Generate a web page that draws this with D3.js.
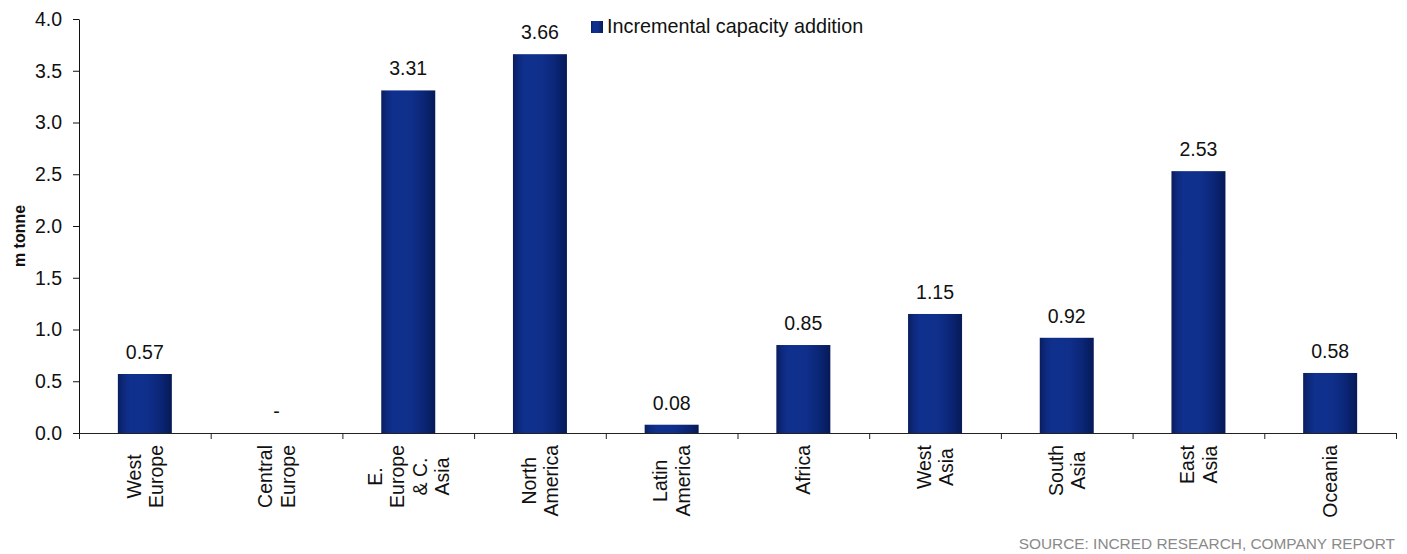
<!DOCTYPE html>
<html>
<head>
<meta charset="utf-8">
<script src="https://cdn.jsdelivr.net/npm/d3@7"></script>
<style>
  html, body { margin: 0; padding: 0; background: #fff; }
  svg { display: block; }
  text { font-family: "Liberation Sans", Arial, sans-serif; }
</style>
</head>
<body>
<svg id="chart" width="1407" height="554"></svg>
<script>
// Regions (each label line separated by "\n")
const regions = [
  "West\nEurope",
  "Central\nEurope",
  "E.\nEurope\n& C.\nAsia",
  "North\nAmerica",
  "Latin\nAmerica",
  "Africa",
  "West\nAsia",
  "South\nAsia",
  "East\nAsia",
  "Oceania"
];
// Incremental capacity addition, m tonne
const capacityAdded = [0.57, 0, 3.31, 3.66, 0.08, 0.85, 1.15, 0.92, 2.53, 0.58];
const yTicks = [0, 0.5, 1.0, 1.5, 2.0, 2.5, 3.0, 3.5, 4.0];
const seriesName = "Incremental capacity addition";
const yTitle = "m tonne";
const sourceNote = "SOURCE: INCRED RESEARCH, COMPANY REPORT";

const svg = d3.select("#chart");
const plot = { left: 79, right: 1396, top: 19, bottom: 433 };
const fs = "19.5px";

const x = d3.scaleBand()
  .domain(d3.range(regions.length))
  .range([plot.left, plot.right])
  .paddingInner(0.59)
  .paddingOuter(0.295);

const y = d3.scaleLinear()
  .domain([0, 4])
  .range([plot.bottom, plot.top]);

// Bar fill: dark edges, brighter centre
const defs = svg.append("defs");
const grad = defs.append("linearGradient")
  .attr("id", "barFill")
  .attr("x1", "0%").attr("x2", "100%").attr("y1", "0%").attr("y2", "0%");
[
  [0, "#0a1d5e"], [0.1, "#0d297c"], [0.22, "#10308e"],
  [0.55, "#0f2f8b"], [0.78, "#0b2677"], [1, "#061a57"]
].forEach(([o, c]) => grad.append("stop").attr("offset", o).attr("stop-color", c));

// Y axis
const yAxis = d3.axisLeft(y)
  .tickValues(yTicks)
  .tickFormat(d3.format(".1f"))
  .tickSize(6)
  .tickSizeOuter(0)
  .tickPadding(11);
const gy = svg.append("g")
  .attr("transform", `translate(${plot.left},0)`)
  .call(yAxis);
gy.attr("font-size", null).attr("font-family", null);
gy.selectAll("text").style("font-size", fs).attr("fill", "#111");
gy.selectAll("line, path").attr("stroke", "#111");

// Y title
svg.append("text")
  .attr("transform", `translate(25,${(plot.top + plot.bottom) / 2 + 10}) rotate(-90)`)
  .attr("text-anchor", "middle")
  .style("font-size", "16px")
  .style("font-weight", "bold")
  .attr("fill", "#111")
  .text(yTitle);

// Bars
svg.append("g").selectAll("rect")
  .data(capacityAdded)
  .join("rect")
  .attr("x", (d, i) => x(i))
  .attr("width", x.bandwidth())
  .attr("y", d => y(d))
  .attr("height", d => y(0) - y(d))
  .attr("fill", "url(#barFill)");

// Value labels
svg.append("g").selectAll("text")
  .data(capacityAdded)
  .join("text")
  .attr("x", (d, i) => x(i) + x.bandwidth() / 2)
  .attr("y", d => y(d) - 15)
  .attr("text-anchor", "middle")
  .style("font-size", fs)
  .attr("fill", "#111")
  .text(d => d === 0 ? "-" : d.toFixed(2));

// X axis: ticks at category boundaries
const xb = d3.scaleLinear()
  .domain([0, regions.length])
  .range([plot.left, plot.right]);
const gx = svg.append("g")
  .attr("transform", `translate(0,${plot.bottom})`)
  .call(d3.axisBottom(xb)
    .tickValues(d3.range(regions.length + 1))
    .tickFormat("")
    .tickSize(6)
    .tickSizeOuter(0));
gx.selectAll("line, path").attr("stroke", "#222");

// Category labels, rotated, lines centred within the block
const lineH = 22.5;
const labelTop = 445;
regions.forEach((name, i) => {
  const lines = name.split("\n");
  const cx = x(i) + x.bandwidth() / 2;
  const g = svg.append("g")
    .attr("transform", `translate(${cx},${labelTop}) rotate(-90)`);
  const texts = g.selectAll("text")
    .data(lines)
    .join("text")
    .attr("text-anchor", "middle")
    .style("font-size", fs)
    .attr("fill", "#111")
    .attr("y", (d, k) => (k - (lines.length - 1) / 2) * lineH + 7)
    .text(d => d);
  let maxLen = 0;
  texts.each(function () { maxLen = Math.max(maxLen, this.getComputedTextLength()); });
  texts.attr("x", -maxLen / 2);
});

// Legend
const lg = svg.append("g").attr("transform", "translate(591,21)");
lg.append("rect").attr("width", 12).attr("height", 12).attr("fill", "url(#barFill)");
lg.append("text")
  .attr("x", 16).attr("y", 12)
  .style("font-size", "19.8px")
  .attr("fill", "#111")
  .text(seriesName);

// Source note
svg.append("text")
  .attr("x", 1395).attr("y", 549)
  .attr("text-anchor", "end")
  .style("font-size", "15.4px")
  .attr("fill", "#8a8a8a")
  .text(sourceNote);
</script>
</body>
</html>
